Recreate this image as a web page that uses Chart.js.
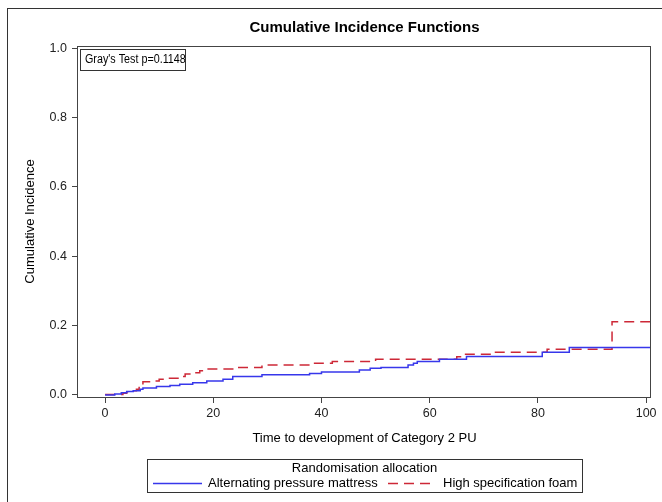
<!DOCTYPE html>
<html>
<head>
<meta charset="utf-8">
<script src="https://cdn.jsdelivr.net/npm/chart.js@4/dist/chart.umd.min.js"></script>
<style>
  html, body { margin: 0; padding: 0; background: #fff; }
  #wrap { width: 662px; height: 502px; }
</style>
</head>
<body>
<div id="wrap"><canvas id="cif" width="662" height="502"></canvas></div>
<script>
// step start times and cumulative incidence
const timeAlt = [0, 1.8, 3, 4, 5.2, 6.5, 7, 9.5, 12, 13.8, 16.2, 18.8, 21.8, 23.6, 29, 37.8, 40, 47, 49, 51, 56, 57, 57.7, 61.8, 66.8, 80.8, 85.8, 100.9];
const cifAlt  = [0, 0.003, 0.006, 0.010, 0.012, 0.016, 0.020, 0.024, 0.027, 0.031, 0.035, 0.040, 0.045, 0.053, 0.058, 0.062, 0.066, 0.072, 0.077, 0.079, 0.086, 0.091, 0.096, 0.103, 0.111, 0.123, 0.137, 0.137];

const timeFoam = [0, 3.3, 4, 5.2, 5.8, 6.3, 7, 9, 10, 11.5, 13.8, 14.8, 16.2, 17.5, 18.8, 23.6, 29, 38.4, 42, 50, 65, 66, 72, 81.7, 93.7, 100.9];
const cifFoam  = [0.001, 0.005, 0.009, 0.012, 0.016, 0.029, 0.038, 0.040, 0.045, 0.048, 0.053, 0.060, 0.064, 0.070, 0.075, 0.079, 0.086, 0.091, 0.096, 0.103, 0.110, 0.117, 0.123, 0.132, 0.211, 0.211];

const xTicks = [0, 20, 40, 60, 80, 100];
const yTicks = [0, 0.2, 0.4, 0.6, 0.8, 1.0];

const seriesNames = ["Alternating pressure mattress", "High specification foam"];
const blue = "rgb(55,55,235)";
const red = "rgb(205,40,55)";
const FONT = "'Liberation Sans', Arial, sans-serif";

function pts(t, v) {
  return t.map((x, i) => ({ x: x, y: v[i] }));
}

const decor = {
  id: "decor",
  afterDraw(chart) {
    const ctx = chart.ctx;
    const a = chart.chartArea;
    const cx = (a.left + a.right) / 2;
    ctx.save();
    // outer frame
    ctx.strokeStyle = "#333";
    ctx.lineWidth = 1;
    ctx.strokeRect(7.5, 8.5, 700, 600);
    // plot box
    ctx.strokeStyle = "#444";
    ctx.strokeRect(a.left - 0.5, a.top + 0.5, a.right - a.left, a.bottom - a.top);

    ctx.fillStyle = "#000";
    ctx.textAlign = "center";
    ctx.textBaseline = "middle";
    ctx.font = "bold 15px " + FONT;
    ctx.fillText("Cumulative Incidence Functions", cx, 28);

    ctx.font = "13px " + FONT;
    ctx.fillText("Time to development of Category 2 PU", cx, 438);
    ctx.save();
    ctx.translate(30, (a.top + a.bottom) / 2);
    ctx.rotate(-Math.PI / 2);
    ctx.fillText("Cumulative Incidence", 0, 0);
    ctx.restore();

    // Gray's test box
    ctx.save();
    ctx.translate(85, 60);
    ctx.scale(0.86, 1);
    ctx.textAlign = "left";
    ctx.font = "12.5px " + FONT;
    ctx.fillText("Gray's Test p=0.1148", 0, 0);
    ctx.restore();
    ctx.strokeStyle = "#333";
    ctx.strokeRect(80.5, 49.5, 105, 21);

    // legend
    ctx.strokeRect(147.5, 459.5, 435, 33);
    ctx.textAlign = "center";
    ctx.fillText("Randomisation allocation", cx, 468);
    ctx.textAlign = "left";
    ctx.fillText(seriesNames[0], 208, 483);
    ctx.fillText(seriesNames[1], 443, 483);
    ctx.lineWidth = 1.5;
    ctx.strokeStyle = blue;
    ctx.beginPath(); ctx.moveTo(153, 483.5); ctx.lineTo(202, 483.5); ctx.stroke();
    ctx.strokeStyle = red;
    ctx.setLineDash([10, 6]);
    ctx.beginPath(); ctx.moveTo(388, 483.5); ctx.lineTo(434, 483.5); ctx.stroke();
    ctx.restore();
  }
};

const ctx = document.getElementById("cif");
const myChart = new Chart(ctx, {
  type: "line",
  data: {
    datasets: [
      {
        label: seriesNames[0],
        data: pts(timeAlt, cifAlt),
        borderColor: blue,
        borderWidth: 1.5,
        stepped: "before",
        pointRadius: 0,
        fill: false,
      },
      {
        label: seriesNames[1],
        data: pts(timeFoam, cifFoam),
        borderColor: red,
        borderWidth: 1.5,
        borderDash: [10, 6],
        stepped: "before",
        pointRadius: 0,
        fill: false,
      },
    ],
  },
  options: {
    responsive: false,
    animation: false,
    layout: { padding: { left: 0, top: 46, right: 11, bottom: 0 } },
    plugins: {
      legend: { display: false },
      title: { display: false },
      tooltip: { enabled: false },
    },
    scales: {
      x: {
        type: "linear",
        min: -5,
        max: 100.9,
        afterBuildTicks: (s) => { s.ticks = xTicks.map((v) => ({ value: v })); },
        afterFit: (s) => { s.height = 105; },
        grid: { drawOnChartArea: false, color: "#444", tickLength: 6 },
        border: { display: false },
        ticks: {
          color: "#222",
          padding: 3,
          maxRotation: 0,
          font: { family: FONT, size: 12.5 },
        },
      },
      y: {
        type: "linear",
        min: -0.006,
        max: 1.006,
        afterBuildTicks: (s) => { s.ticks = yTicks.map((v) => ({ value: v })); },
        afterFit: (s) => { s.width = 78; },
        grid: { drawOnChartArea: false, color: "#444", tickLength: 6 },
        border: { display: false },
        ticks: {
          color: "#222",
          padding: 5,
          callback: (v) => v.toFixed(1),
          font: { family: FONT, size: 12.5 },
        },
      },
    },
  },
  plugins: [decor],
});
</script>
</body>
</html>
